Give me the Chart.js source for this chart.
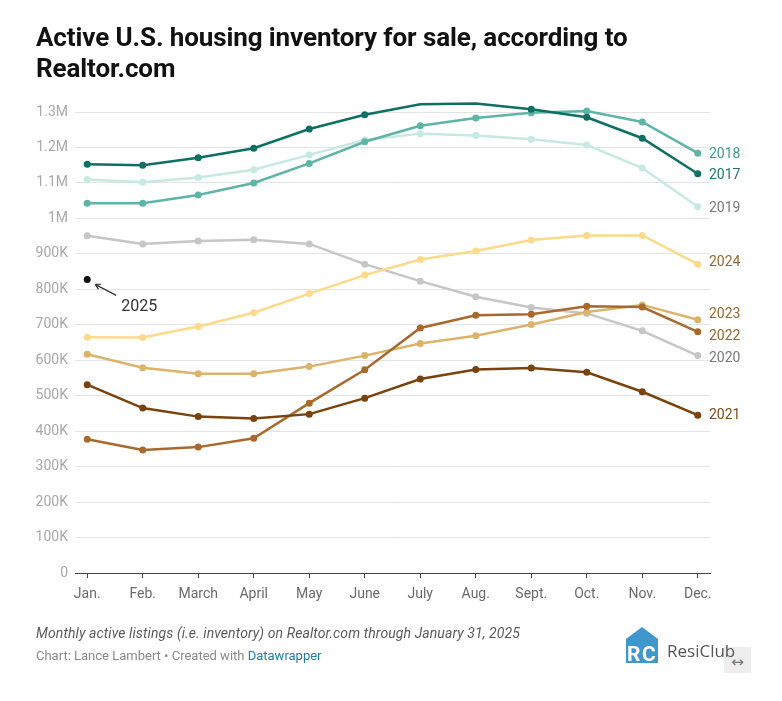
<!DOCTYPE html>
<html>
<head>
<meta charset="utf-8">
<script src="https://cdn.jsdelivr.net/npm/chart.js@4.4.1/dist/chart.umd.min.js"></script>
<style>
  html, body { margin:0; padding:0; background:#fff; width:782px; height:701px; overflow:hidden; font-family: Roboto, "Noto Sans", sans-serif; }
  #wrap { position:relative; width:782px; height:701px; }
  #c { position:absolute; left:0; top:0; }
  #title { position:absolute; left:36px; top:22px; font-size:26px; font-weight:700; line-height:31px; color:#111; letter-spacing:-0.1px; }
  #note { position:absolute; left:36px; top:624px; font-size:14px; font-style:italic; color:#5a5a5a; line-height:18px; letter-spacing:0.1px; }
  #credit { position:absolute; left:36px; top:647px; font-size:13px; color:#8a8a8a; line-height:17px; }
  #credit span { color:#1d81a2; }
  #logo { position:absolute; left:626px; top:627px; }
  #logotext { position:absolute; left:667px; top:640px; font-family: "Open Sans", Lato, sans-serif; font-size:17px; color:#555; line-height:22px; }
  #expand { position:absolute; left:724px; top:647px; width:27px; height:26px; background:#eeeeee; color:#777; font-size:15px; text-align:center; line-height:30px; font-family:"DejaVu Sans", sans-serif; }
</style>
</head>
<body>
<div id="wrap">
  <canvas id="c" width="782" height="701"></canvas>
  <div id="title">Active U.S. housing inventory for sale, according to<br>Realtor.com</div>
  <div id="note">Monthly active listings (i.e. inventory) on Realtor.com through January 31, 2025</div>
  <div id="credit">Chart: Lance Lambert • Created with <span>Datawrapper</span></div>
  <div id="expand">↔</div>
  <svg id="logo" width="34" height="36" viewBox="0 0 34 36">
    <path d="M16 0 L32 12 L32 36 L0 36 L0 12 Z" fill="#3f97cc"/>
    <text x="1" y="34" font-family="Roboto, sans-serif" font-weight="700" font-size="21" fill="#fff">R</text>
    <text x="16" y="34" font-family="Roboto, sans-serif" font-weight="700" font-size="21" fill="#fff">C</text>
  </svg>
  <div id="logotext">ResiClub</div>
</div>
<script>
// ---- data ----
const months = ["Jan.","Feb.","March","April","May","June","July","Aug.","Sept.","Oct.","Nov.","Dec."];
const yTicks = [0,100000,200000,300000,400000,500000,600000,700000,800000,900000,1000000,1100000,1200000,1300000];
const v2017 = [1153000,1150000,1171000,1198000,1252000,1292000,1322000,1324000,1308000,1285000,1226000,1126000];
const v2018 = [1043000,1043000,1066000,1100000,1155000,1216000,1261000,1283000,1298000,1303000,1272000,1184000];
const v2019 = [1110000,1102000,1115000,1137000,1179000,1221000,1239000,1234000,1223000,1207000,1142000,1033000];
const v2020 = [951000,928000,936000,940000,928000,871000,823000,779000,749000,732000,683000,613000];
const v2021 = [531000,465000,441000,436000,448000,493000,547000,574000,578000,566000,511000,445000];
const v2022 = [377000,347000,355000,380000,479000,573000,691000,727000,730000,752000,750000,680000];
const v2023 = [617000,579000,562000,562000,582000,613000,647000,669000,701000,736000,756000,714000];
const v2024 = [665000,664000,695000,734000,788000,840000,884000,908000,939000,952000,952000,871000];
const v2025 = [828000];

// ---- styles ----
const series = [
  { label:"2025", values:v2025, color:"#111111", text:null },
  { label:"2017", values:v2017, color:"#0e6f63", text:"#1f7a6e", dy:1.5 },
  { label:"2018", values:v2018, color:"#5eb4a6", text:"#3f9a8d", dy:1 },
  { label:"2021", values:v2021, color:"#7a420c", text:"#7a4a18", dy:0.5 },
  { label:"2022", values:v2022, color:"#a8692c", text:"#9a6630", dy:4.5 },
  { label:"2023", values:v2023, color:"#dcb36a", text:"#9a6630", dy:-5.5 },
  { label:"2024", values:v2024, color:"#fdd98a", text:"#9a6630", dy:-2 },
  { label:"2020", values:v2020, color:"#c6c6c6", text:"#7a7a7a", dy:2.5 },
  { label:"2019", values:v2019, color:"#c6e9e1", text:"#7a7a7a", dy:1.5 }
];

const datasets = series.map(s => ({
  label: s.label,
  data: s.values.map((v,i) => ({x:i, y:v})),
  borderColor: s.color,
  backgroundColor: s.color,
  borderWidth: 2.5,
  pointRadius: 3.5,
  pointBorderWidth: 0,
  pointHoverRadius: 3.5,
  showLine: s.values.length > 1,
  tension: 0,
  clip: false
}));

const endLabels = {
  id: 'endLabels',
  afterDatasetsDraw(chart) {
    const ctx = chart.ctx;
    ctx.save();
    ctx.textBaseline = 'middle';
    ctx.textAlign = 'left';
    series.forEach((s, i) => {
      const meta = chart.getDatasetMeta(i);
      if (!meta.data.length) return;
      if (s.text) {
        const p = meta.data[meta.data.length - 1];
        ctx.font = '14px Roboto, sans-serif';
        ctx.fillStyle = s.text;
        ctx.fillText(s.label, chart.chartArea.right - 1, p.y + s.dy);
      }
      if (s.label === "2025") {
        const p = meta.data[0];
        const tx = p.x + 8, ty = p.y + 5, sx = p.x + 29, sy = p.y + 16;
        ctx.strokeStyle = '#333';
        ctx.lineWidth = 1.2;
        ctx.beginPath();
        ctx.moveTo(sx, sy); ctx.lineTo(tx, ty);
        const ang = Math.atan2(ty - sy, tx - sx);
        ctx.moveTo(tx, ty); ctx.lineTo(tx - 6*Math.cos(ang - 0.5), ty - 6*Math.sin(ang - 0.5));
        ctx.moveTo(tx, ty); ctx.lineTo(tx - 6*Math.cos(ang + 0.5), ty - 6*Math.sin(ang + 0.5));
        ctx.stroke();
        ctx.fillStyle = '#333';
        ctx.font = '16px Roboto, sans-serif';
        ctx.fillText('2025', p.x + 34, p.y + 28);
      }
    });
    ctx.restore();
  }
};

new Chart(document.getElementById('c'), {
  type: 'line',
  data: { datasets },
  plugins: [endLabels],
  options: {
    responsive: false,
    animation: false,
    devicePixelRatio: 1,
    layout: { padding: { top: 112, bottom: 88, left: 0, right: 72 } },
    plugins: { legend: { display: false }, tooltip: { enabled: false }, title: { display: false } },
    scales: {
      x: {
        type: 'linear',
        min: -0.22, max: 11.22,
        afterBuildTicks: s => { s.ticks = months.map((m,i) => ({ value: i })); },
        afterFit: s => { s.height = 40; },
        grid: { drawOnChartArea: false, drawTicks: true, tickLength: 5, color: '#444' },
        border: { display: true, color: '#444', width: 1 },
        ticks: { color: '#6a6a6a', font: { family: 'Roboto', size: 14 }, padding: 8, maxRotation: 0, autoSkip: false,
                 callback: v => months[v] }
      },
      y: {
        min: 0, max: 1300000,
        afterBuildTicks: s => { s.ticks = yTicks.map(v => ({ value: v })); },
        afterFit: s => { s.width = 75; },
        grid: { color: '#e4e4e4', drawTicks: false, lineWidth: 1 },
        border: { display: false },
        ticks: { color: '#a8a8a8', font: { family: 'Roboto', size: 14 }, padding: 7,
                 callback: v => v === 0 ? '0' : (v >= 1000000 ? (v/1000000) + 'M' : (v/1000) + 'K') }
      }
    }
  }
});
</script>
</body>
</html>
